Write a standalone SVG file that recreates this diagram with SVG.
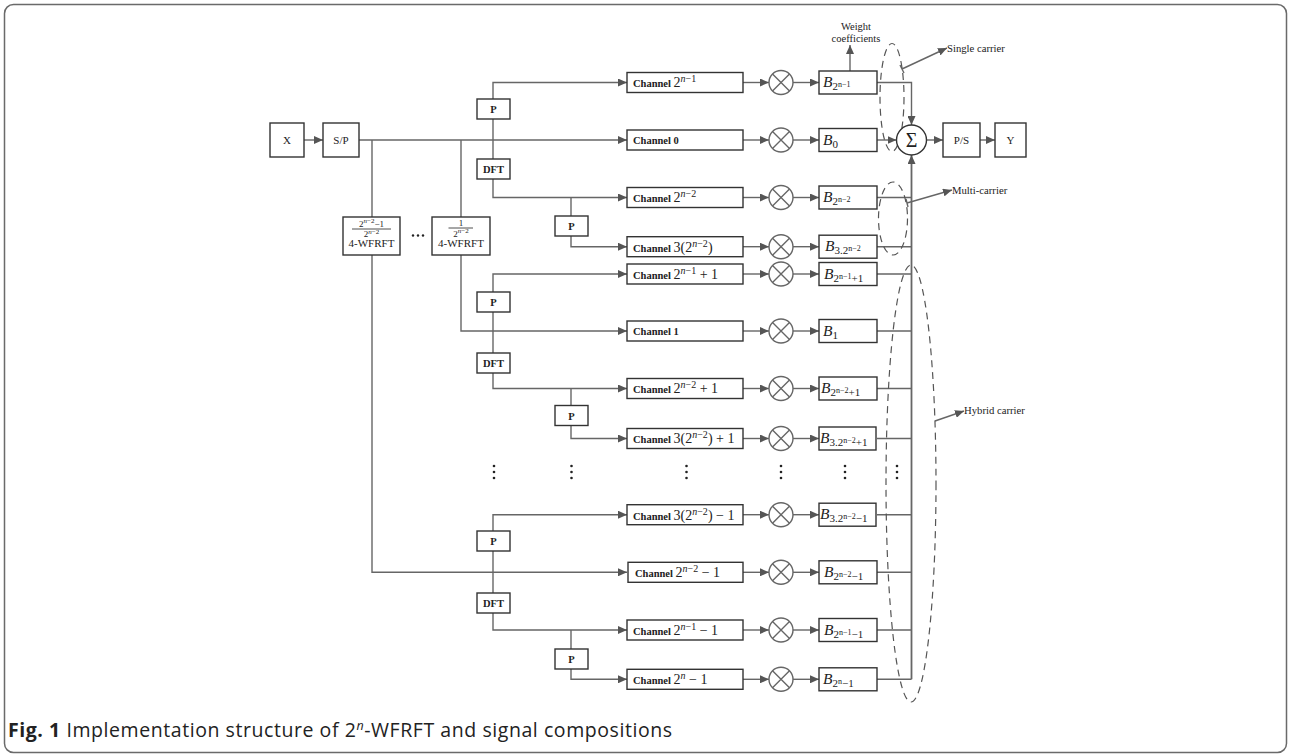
<svg xmlns="http://www.w3.org/2000/svg" width="1291" height="756" viewBox="0 0 1291 756">
<style>
.frame{fill:#fff;stroke:#6a6a6a;stroke-width:1.5}
.box{fill:#fff;stroke:#333;stroke-width:1.4}
.ln{fill:none;stroke:#666;stroke-width:1.4}
.arr{marker-end:url(#ah)}
.dash{fill:none;stroke:#555;stroke-width:1.2;stroke-dasharray:7,5}
.t{font-family:"Liberation Serif",serif;font-size:11px;fill:#222}
.tc{text-anchor:middle}
.b{font-family:"Liberation Serif",serif;font-weight:bold;font-size:10.5px;fill:#222}
.m{font-family:"Liberation Serif",serif;font-size:14px;fill:#222}
.sup{font-size:10px}
.bl{font-family:"Liberation Serif",serif;font-size:15.5px;font-style:italic;fill:#222}
.s1{font-size:11px;font-style:normal}
.s2{font-size:8px;font-style:normal}
.i{font-style:italic}
.dot{fill:#222}
.cap{font-family:"Open Sans",sans-serif;font-size:19.5px;fill:#222}
</style>
<defs>
<marker id="ah" markerUnits="userSpaceOnUse" markerWidth="9" markerHeight="8" refX="9" refY="4" orient="auto">
<path d="M0,0 L9,4 L0,8 z" fill="#555"/>
</marker>
<g id="mul"><circle r="12" fill="#fff" stroke="#666" stroke-width="1.4"/><path d="M-8.5,-8.5 L8.5,8.5 M-8.5,8.5 L8.5,-8.5" stroke="#666" stroke-width="1.4"/></g>
</defs>
<rect class="frame" x="4.5" y="4.5" width="1282" height="748" rx="9"/>

<g id="connectors">
<path class="ln arr" d="M304,140 H323"/>
<path class="ln arr" d="M359,140 H627"/>
<path class="ln" d="M372,140 V217"/>
<path class="ln" d="M461,140 V217"/>
<path class="ln arr" d="M372,255 V572.3 H627"/>
<path class="ln arr" d="M461,255 V331 H627"/>
<path class="ln arr" d="M493,99 V82.5 H627"/>
<path class="ln" d="M493,119 V159"/>
<path class="ln arr" d="M493,179 V197.5 H627"/>
<path class="ln" d="M571,197.5 V216"/>
<path class="ln arr" d="M571,236 V246.7 H627"/>
<path class="ln arr" d="M493,292 V274 H627"/>
<path class="ln" d="M493,312 V353"/>
<path class="ln arr" d="M493,372.5 V388.5 H627"/>
<path class="ln" d="M571,388.5 V405.7"/>
<path class="ln arr" d="M571,425.5 V438.5 H627"/>
<path class="ln arr" d="M493,531 V514.7 H627"/>
<path class="ln" d="M493,551 V593"/>
<path class="ln arr" d="M493,613 V630 H627"/>
<path class="ln" d="M571,630 V649"/>
<path class="ln arr" d="M571,669 V679.3 H627"/>
<path class="ln arr" d="M743,82.5 H769"/><path class="ln arr" d="M793,82.5 H819"/>
<path class="ln arr" d="M743,140 H769"/><path class="ln arr" d="M793,140 H819"/>
<path class="ln arr" d="M743,197.5 H769"/><path class="ln arr" d="M793,197.5 H819"/>
<path class="ln arr" d="M743,246.7 H769"/><path class="ln arr" d="M793,246.7 H819"/>
<path class="ln arr" d="M743,274 H769"/><path class="ln arr" d="M793,274 H819"/>
<path class="ln arr" d="M743,331 H769"/><path class="ln arr" d="M793,331 H819"/>
<path class="ln arr" d="M743,388.5 H769"/><path class="ln arr" d="M793,388.5 H819"/>
<path class="ln arr" d="M743,438.5 H769"/><path class="ln arr" d="M793,438.5 H819"/>
<path class="ln arr" d="M743,514.7 H769"/><path class="ln arr" d="M793,514.7 H819"/>
<path class="ln arr" d="M743,572.3 H769"/><path class="ln arr" d="M793,572.3 H819"/>
<path class="ln arr" d="M743,630 H769"/><path class="ln arr" d="M793,630 H819"/>
<path class="ln arr" d="M743,679.3 H769"/><path class="ln arr" d="M793,679.3 H819"/>
<path class="ln arr" d="M877,82.5 H911.5 V125"/>
<path class="ln arr" d="M877,140 H896.5"/>
<path class="ln" d="M877,197.5 H911.5 M877,246.7 H911.5 M877,274 H911.5 M877,331 H911.5 M877,388.5 H911.5 M877,438.5 H911.5 M877,514.7 H911.5 M877,572.3 H911.5 M877,630 H911.5 M877,679.3 H911.5"/>
<path class="ln arr" style="stroke-width:1.8" d="M911.5,679.3 V155"/>
<path class="ln arr" d="M926.5,140 H943"/>
<path class="ln arr" d="M980,140 H995"/>
<path class="ln arr" d="M850,71 V45"/>
<path class="ln arr" d="M902,69 L947,48"/>
<path class="ln" d="M900,65 L904,73"/>
<path class="ln arr" d="M907,203 L952,190"/>
<path class="ln" d="M906,199 L908,207"/>
<path class="ln arr" d="M935,421 L964,411"/>
</g>

<g id="carrier-ellipses">
<ellipse class="dash" cx="892" cy="97.5" rx="12" ry="54"/>
<ellipse class="dash" cx="893" cy="218.5" rx="14.5" ry="36.5"/>
<ellipse class="dash" cx="911" cy="483.5" rx="25" ry="218.5"/>
</g>

<g id="node-X"><rect class="box" x="270" y="123" width="34" height="34"/><text class="t tc" x="287" y="144">X</text></g>
<g id="node-SP"><rect class="box" x="323" y="123" width="36" height="34"/><text class="t tc" x="341" y="144">S/P</text></g>
<g id="node-WFRFT1"><rect class="box" x="343" y="217" width="57" height="38"/>
<text class="t tc" x="371.5" y="226.5" style="font-size:9px">2<tspan dy="-3.5" style="font-size:7px"><tspan class="i">n</tspan>−2</tspan><tspan dy="3.5">−1</tspan></text>
<path d="M352,229 H391" stroke="#222" stroke-width="0.8"/>
<text class="t tc" x="371.5" y="237" style="font-size:9px">2<tspan dy="-3.5" style="font-size:7px"><tspan class="i">n</tspan>−2</tspan></text>
<text class="t tc" x="371.5" y="247">4-WFRFT</text></g>
<g id="node-dots-h"><circle class="dot" cx="413" cy="235.5" r="1.2"/><circle class="dot" cx="418" cy="235.5" r="1.2"/><circle class="dot" cx="423" cy="235.5" r="1.2"/></g>
<g id="node-WFRFT2"><rect class="box" x="432" y="217" width="58" height="38"/>
<text class="t tc" x="461" y="226" style="font-size:9px">1</text>
<path d="M448.5,228 H473" stroke="#222" stroke-width="0.8"/>
<text class="t tc" x="461" y="236.5" style="font-size:9px">2<tspan dy="-3.5" style="font-size:7px"><tspan class="i">n</tspan>−2</tspan></text>
<text class="t tc" x="461" y="247">4-WFRFT</text></g>

<g id="node-P1"><rect class="box" x="477" y="99" width="33" height="20"/><text class="b tc" x="493.5" y="113">P</text></g>
<g id="node-DFT1"><rect class="box" x="477" y="159" width="33" height="20"/><text class="b tc" x="493.5" y="173">DFT</text></g>
<g id="node-P2"><rect class="box" x="555" y="216" width="33" height="20"/><text class="b tc" x="571.5" y="230">P</text></g>
<g id="node-P3"><rect class="box" x="477" y="292" width="33" height="20"/><text class="b tc" x="493.5" y="306">P</text></g>
<g id="node-DFT2"><rect class="box" x="477" y="353" width="33" height="20"/><text class="b tc" x="493.5" y="367">DFT</text></g>
<g id="node-P4"><rect class="box" x="555" y="405.5" width="33" height="20"/><text class="b tc" x="571.5" y="419.5">P</text></g>
<g id="node-P5"><rect class="box" x="477" y="531" width="33" height="20"/><text class="b tc" x="493.5" y="545">P</text></g>
<g id="node-DFT3"><rect class="box" x="477" y="593" width="33" height="20"/><text class="b tc" x="493.5" y="607">DFT</text></g>
<g id="node-P6"><rect class="box" x="555" y="649" width="33" height="20"/><text class="b tc" x="571.5" y="663">P</text></g>

<g id="node-ch1"><rect class="box" x="627" y="72.5" width="116" height="20"/><text x="633" y="87"><tspan class="b">Channel </tspan><tspan class="m">2</tspan><tspan class="m sup" dy="-5"><tspan class="i">n</tspan>−1</tspan></text></g>
<g id="node-ch2"><rect class="box" x="627" y="130" width="116" height="20"/><text x="633" y="144"><tspan class="b">Channel 0</tspan></text></g>
<g id="node-ch3"><rect class="box" x="627" y="187.5" width="116" height="20"/><text x="633" y="202"><tspan class="b">Channel </tspan><tspan class="m">2</tspan><tspan class="m sup" dy="-5"><tspan class="i">n</tspan>−2</tspan></text></g>
<g id="node-ch4"><rect class="box" x="627" y="236.7" width="116" height="20"/><text x="633" y="251.5"><tspan class="b">Channel </tspan><tspan class="m">3(2</tspan><tspan class="m sup" dy="-5"><tspan class="i">n</tspan>−2</tspan><tspan class="m" dy="5">)</tspan></text></g>
<g id="node-ch5"><rect class="box" x="627" y="264" width="116" height="20"/><text x="633" y="278.5"><tspan class="b">Channel </tspan><tspan class="m">2</tspan><tspan class="m sup" dy="-5"><tspan class="i">n</tspan>−1</tspan><tspan class="m" dy="5"> + 1</tspan></text></g>
<g id="node-ch6"><rect class="box" x="627" y="321" width="116" height="20"/><text x="633" y="335"><tspan class="b">Channel 1</tspan></text></g>
<g id="node-ch7"><rect class="box" x="627" y="378.5" width="116" height="20"/><text x="633" y="393"><tspan class="b">Channel </tspan><tspan class="m">2</tspan><tspan class="m sup" dy="-5"><tspan class="i">n</tspan>−2</tspan><tspan class="m" dy="5"> + 1</tspan></text></g>
<g id="node-ch8"><rect class="box" x="627" y="428.5" width="116" height="20"/><text x="633" y="443"><tspan class="b">Channel </tspan><tspan class="m">3(2</tspan><tspan class="m sup" dy="-5"><tspan class="i">n</tspan>−2</tspan><tspan class="m" dy="5">) + 1</tspan></text></g>
<g id="node-ch9"><rect class="box" x="627" y="504.7" width="116" height="20"/><text x="633" y="519.5"><tspan class="b">Channel </tspan><tspan class="m">3(2</tspan><tspan class="m sup" dy="-5"><tspan class="i">n</tspan>−2</tspan><tspan class="m" dy="5">) − 1</tspan></text></g>
<g id="node-ch10"><rect class="box" x="628" y="562.3" width="115" height="20"/><text x="635" y="577"><tspan class="b">Channel </tspan><tspan class="m">2</tspan><tspan class="m sup" dy="-5"><tspan class="i">n</tspan>−2</tspan><tspan class="m" dy="5"> − 1</tspan></text></g>
<g id="node-ch11"><rect class="box" x="627" y="620" width="116" height="20"/><text x="633" y="634.5"><tspan class="b">Channel  </tspan><tspan class="m">2</tspan><tspan class="m sup" dy="-5"><tspan class="i">n</tspan>−1</tspan><tspan class="m" dy="5"> − 1</tspan></text></g>
<g id="node-ch12"><rect class="box" x="627" y="669.3" width="116" height="20"/><text x="633" y="684"><tspan class="b">Channel  </tspan><tspan class="m">2</tspan><tspan class="m sup i" dy="-5">n</tspan><tspan class="m" dy="5"> − 1</tspan></text></g>

<g id="node-mul1"><use href="#mul" x="781" y="82.5"/></g>
<g id="node-mul2"><use href="#mul" x="781" y="140"/></g>
<g id="node-mul3"><use href="#mul" x="781" y="197.5"/></g>
<g id="node-mul4"><use href="#mul" x="781" y="246.7"/></g>
<g id="node-mul5"><use href="#mul" x="781" y="274"/></g>
<g id="node-mul6"><use href="#mul" x="781" y="331"/></g>
<g id="node-mul7"><use href="#mul" x="781" y="388.5"/></g>
<g id="node-mul8"><use href="#mul" x="781" y="438.5"/></g>
<g id="node-mul9"><use href="#mul" x="781" y="514.7"/></g>
<g id="node-mul10"><use href="#mul" x="781" y="572.3"/></g>
<g id="node-mul11"><use href="#mul" x="781" y="630"/></g>
<g id="node-mul12"><use href="#mul" x="781" y="679.3"/></g>

<g id="node-B1"><rect class="box" x="819" y="71" width="58" height="23"/><text class="bl" x="823" y="87">B<tspan class="s1" dy="3">2</tspan><tspan class="s2" dy="-3">n−1</tspan></text></g>
<g id="node-B2"><rect class="box" x="819" y="128.5" width="58" height="23"/><text class="bl" x="823" y="144.5">B<tspan class="s1" dy="3">0</tspan></text></g>
<g id="node-B3"><rect class="box" x="819" y="186" width="58" height="23"/><text class="bl" x="823" y="202">B<tspan class="s1" dy="3">2</tspan><tspan class="s2" dy="-3">n−2</tspan></text></g>
<g id="node-B4"><rect class="box" x="819" y="235.2" width="58" height="23"/><text class="bl" x="825" y="251.2">B<tspan class="s1" dy="3">3.2</tspan><tspan class="s2" dy="-3">n−2</tspan></text></g>
<g id="node-B5"><rect class="box" x="819" y="262.5" width="58" height="23"/><text class="bl" x="824" y="278.5">B<tspan class="s1" dy="3">2</tspan><tspan class="s2" dy="-3">n−1</tspan><tspan class="s1" dy="3">+1</tspan></text></g>
<g id="node-B6"><rect class="box" x="819" y="319.5" width="58" height="23"/><text class="bl" x="823" y="335.5">B<tspan class="s1" dy="3">1</tspan></text></g>
<g id="node-B7"><rect class="box" x="819" y="377" width="58" height="23"/><text class="bl" x="821" y="393">B<tspan class="s1" dy="3">2</tspan><tspan class="s2" dy="-3">n−2</tspan><tspan class="s1" dy="3">+1</tspan></text></g>
<g id="node-B8"><rect class="box" x="819" y="427" width="57" height="23"/><text class="bl" x="820" y="443">B<tspan class="s1" dy="3">3.2</tspan><tspan class="s2" dy="-3">n−2</tspan><tspan class="s1" dy="3">+1</tspan></text></g>
<g id="node-B9"><rect class="box" x="819" y="503.2" width="57" height="23"/><text class="bl" x="820" y="519.2">B<tspan class="s1" dy="3">3.2</tspan><tspan class="s2" dy="-3">n−2</tspan><tspan class="s1" dy="3">−1</tspan></text></g>
<g id="node-B10"><rect class="box" x="819" y="560.8" width="58" height="23"/><text class="bl" x="824" y="576.8">B<tspan class="s1" dy="3">2</tspan><tspan class="s2" dy="-3">n−2</tspan><tspan class="s1" dy="3">−1</tspan></text></g>
<g id="node-B11"><rect class="box" x="819" y="618.5" width="58" height="23"/><text class="bl" x="824" y="634.5">B<tspan class="s1" dy="3">2</tspan><tspan class="s2" dy="-3">n−1</tspan><tspan class="s1" dy="3">−1</tspan></text></g>
<g id="node-B12"><rect class="box" x="819" y="667.8" width="58" height="23"/><text class="bl" x="823" y="683.8">B<tspan class="s1" dy="3">2</tspan><tspan class="s2" dy="-3">n</tspan><tspan class="s1" dy="3">−1</tspan></text></g>

<g id="node-sum"><circle cx="911.5" cy="140" r="15" fill="#fff" stroke="#333" stroke-width="1.4"/><text class="t tc" x="911.5" y="147" style="font-size:20px">Σ</text></g>
<g id="node-PS"><rect class="box" x="943" y="123" width="37" height="34"/><text class="t tc" x="961.5" y="144">P/S</text></g>
<g id="node-Y"><rect class="box" x="995" y="123" width="31" height="34"/><text class="t tc" x="1010.5" y="144">Y</text></g>

<g id="labels">
<text class="t tc" x="856" y="29.5" style="font-size:10.5px">Weight</text>
<text class="t tc" x="856" y="42" style="font-size:10.5px">coefficients</text>
<text class="t" x="947" y="51.5" style="font-size:10.7px">Single carrier</text>
<text class="t" x="952" y="194" style="font-size:10.7px">Multi-carrier</text>
<text class="t" x="964" y="414" style="font-size:10.7px">Hybrid carrier</text>
</g>

<g id="vdots">
<g class="dot"><circle cx="494" cy="466" r="1.3"/><circle cx="494" cy="472" r="1.3"/><circle cx="494" cy="478" r="1.3"/>
<circle cx="571.5" cy="466" r="1.3"/><circle cx="571.5" cy="472" r="1.3"/><circle cx="571.5" cy="478" r="1.3"/>
<circle cx="686.5" cy="466" r="1.3"/><circle cx="686.5" cy="472" r="1.3"/><circle cx="686.5" cy="478" r="1.3"/>
<circle cx="781" cy="466" r="1.3"/><circle cx="781" cy="472" r="1.3"/><circle cx="781" cy="478" r="1.3"/>
<circle cx="845" cy="466" r="1.3"/><circle cx="845" cy="472" r="1.3"/><circle cx="845" cy="478" r="1.3"/>
<circle cx="897" cy="466" r="1.3"/><circle cx="897" cy="472" r="1.3"/><circle cx="897" cy="478" r="1.3"/></g>
</g>

<text class="cap" x="8" y="737" textLength="664" lengthAdjust="spacing"><tspan font-weight="bold">Fig. 1</tspan> Implementation structure of 2<tspan dy="-7" font-size="12.5" font-style="italic">n</tspan><tspan dy="7">-WFRFT and signal compositions</tspan></text>
</svg>
